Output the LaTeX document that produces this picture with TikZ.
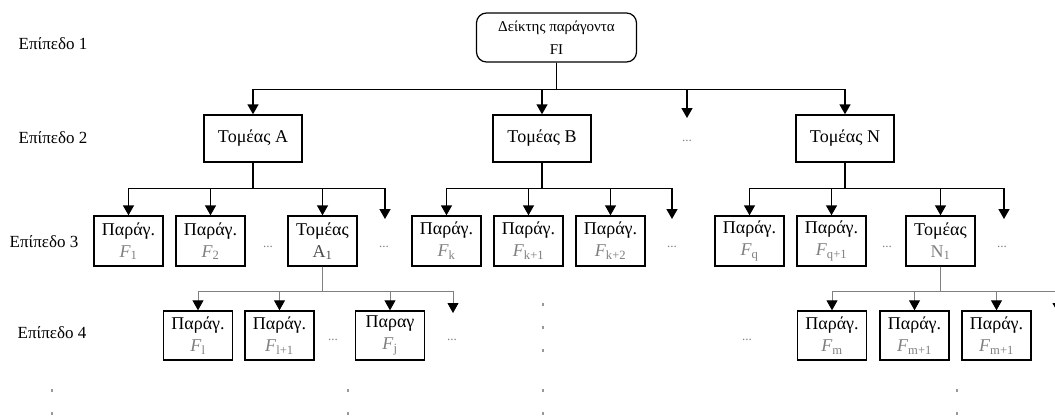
\documentclass[tikz,border=0pt]{standalone}
\usepackage{fontspec}
\setmainfont{Liberation Serif}
\usetikzlibrary{arrows.meta}
\newcommand{\fsub}[1]{\textcolor{gray}{\textit{F}\textsubscript{#1}}}
\begin{document}
\begin{tikzpicture}[x=1pt,y=-1pt,
  every node/.style={font=\fontsize{17}{22}\selectfont},
  levellabel/.style={anchor=center},
  box/.style={draw=black, line width=1.4pt, minimum width=69pt, minimum height=50pt, inner sep=0pt, align=center, font=\fontsize{18}{22}\selectfont},
  secbox/.style={box, minimum width=98pt, minimum height=47pt},
  leafbox/.style={box, minimum height=49pt},
  rootbox/.style={draw=black, line width=1.2pt, rounded corners=10pt, minimum width=160pt, minimum height=49pt, inner sep=0pt, align=center, font=\fontsize{15}{23}\selectfont},
  arr/.style={draw=black, line width=1.4pt, -{Triangle[length=10pt,width=11pt]}},
  thinarr/.style={draw=gray, line width=0.9pt, -{Triangle[length=10pt,width=11pt,color=black]}},
  gap/.style={text=gray, font=\fontsize{13}{13}\selectfont},
  vdot/.style={fill=gray!80}
]
\fill[white] (0,0) rectangle (1055,416);
\useasboundingbox (0,0) rectangle (1055,416);

% level labels
\node[levellabel] (L1) at (53,44) {Επίπεδο 1};
\node[levellabel] (L2) at (53,138) {Επίπεδο 2};
\node[levellabel] (L3) at (44,242) {Επίπεδο 3};
\node[levellabel] (L4) at (52,333) {Επίπεδο 4};

% level 1
\node[rootbox] (root) at (556.5,37.5) {Δείκτης παράγοντα\\FI};

% level 2
\node[secbox] (A) at (253,138.5) {Τομέας A};
\node[secbox] (B) at (542,138.5) {Τομέας B};
\node[secbox] (N) at (845,138.5) {Τομέας N};
\node[gap] (g2) at (687,141) {...};
\coordinate (free2) at (687,118);

\foreach \t in {A,B,free2,N}
  \draw[arr] (root.south) -- ++(0,27) -| (\t);

% level 3
\node[box] (F1) at (128.5,241) {Παράγ.\\\fsub{1}};
\node[box] (F2) at (210.5,241) {Παράγ.\\\fsub{2}};
\node[box] (A1) at (322.5,241) {Τομέας\\\textcolor{gray!60!black}{A\textsubscript{1}}};
\node[gap] (g3a) at (268,247) {...};
\node[gap] (g3b) at (384,247) {...};
\coordinate (freeA) at (385,219);

\node[box] (Fk)  at (446.5,241) {Παράγ.\\\fsub{k}};
\node[box] (Fk1) at (528.5,241) {Παράγ.\\\fsub{k+1}};
\node[box] (Fk2) at (610.5,241) {Παράγ.\\\fsub{k+2}};
\node[gap] (g3c) at (672,247) {...};
\coordinate (freeB) at (672,219);

\node[box] (Fq)  at (749.5,241) {Παράγ.\\\fsub{q}};
\node[box] (Fq1) at (831.5,241) {Παράγ.\\\fsub{q+1}};
\node[box] (N1)  at (940.5,241) {Τομέας\\\textcolor{gray}{N\textsubscript{1}}};
\node[gap] (g3d) at (887,247) {...};
\node[gap] (g3e) at (1002,247) {...};
\coordinate (freeN) at (1004,219);

\draw[arr] (A.south) -- ++(0,26) -| (F1.north);
\draw[arr] (A.south) -- ++(0,26) -| (F2.north);
\draw[arr] (A.south) -- ++(0,26) -| (A1.north);
\draw[arr] (A.south) -- ++(0,26) -| (freeA);

\draw[arr] (B.south) -- ++(0,26) -| (Fk.north);
\draw[arr] (B.south) -- ++(0,26) -| (Fk1.north);
\draw[arr] (B.south) -- ++(0,26) -| (Fk2.north);
\draw[arr] (B.south) -- ++(0,26) -| (freeB);

\draw[arr] (N.south) -- ++(0,26) -| (Fq.north);
\draw[arr] (N.south) -- ++(0,26) -| (Fq1.north);
\draw[arr] (N.south) -- ++(0,26) -| (N1.north);
\draw[arr] (N.south) -- ++(0,26) -| (freeN);

% level 4
\node[leafbox] (Fl)  at (198,335.5) {Παράγ.\\\fsub{l}};
\node[leafbox] (Fl1) at (279.5,335.5) {Παράγ.\\\fsub{l+1}};
\node[leafbox] (Fj)  at (390,335.5) {Παραγ\\\fsub{j}};
\node[gap] (g4a) at (333,340) {...};
\node[gap] (g4b) at (452,340) {...};
\coordinate (freeA1) at (453,313);

\node[leafbox] (Fm)   at (832,335.5) {Παράγ.\\\fsub{m}};
\node[leafbox] (Fm1)  at (914.5,335.5) {Παράγ.\\\fsub{m+1}};
\node[leafbox] (Fm1b) at (996.5,335.5) {Παράγ.\\\fsub{m+1}};
\node[gap] (g4c) at (747,340) {...};
\coordinate (freeN1) at (1058,313);

\draw[thinarr] (A1.south) -- ++(0,25) -| (Fl.north);
\draw[thinarr] (A1.south) -- ++(0,25) -| (Fl1.north);
\draw[thinarr] (A1.south) -- ++(0,25) -| (Fj.north);
\draw[thinarr] (A1.south) -- ++(0,25) -| (freeA1);

\draw[thinarr] (N1.south) -- ++(0,25) -| (Fm.north);
\draw[thinarr] (N1.south) -- ++(0,25) -| (Fm1.north);
\draw[thinarr] (N1.south) -- ++(0,25) -| (Fm1b.north);
\draw[thinarr] (N1.south) -- ++(0,25) -| (freeN1);

% vertical continuation dots
\foreach \p in {(543,304),(543,327),(543,350),(543,390),(543,413),
                (52,390),(52,413),(348,390),(348,413),(957,390),(957,413)}
  \fill[vdot] \p ++(-0.6,-1.5) rectangle ++(1.2,3);
\end{tikzpicture}
\end{document}
